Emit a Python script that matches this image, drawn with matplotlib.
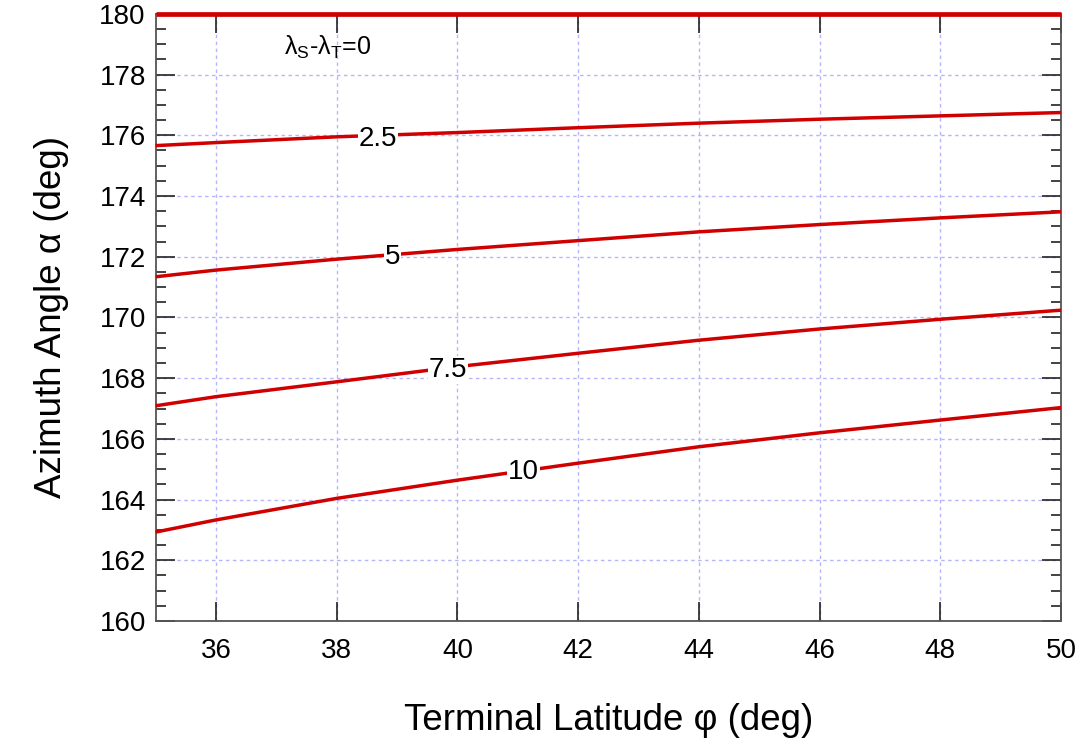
import matplotlib
matplotlib.use("Agg")
import matplotlib.pyplot as plt
from matplotlib.ticker import MultipleLocator

plt.rcParams['font.family'] = ['Liberation Sans', 'DejaVu Sans']
plt.rcParams['mathtext.fontset'] = 'custom'
plt.rcParams['mathtext.rm'] = 'Liberation Sans'
plt.rcParams['mathtext.it'] = 'Liberation Sans:italic'

# Terminal latitude (deg)
lat = [35, 36, 38, 40, 42, 44, 46, 48, 50]
# Azimuth angle (deg) for each longitude difference
az_0 = [180, 180, 180, 180, 180, 180, 180, 180, 180]
az_2_5 = [175.66, 175.76, 175.95, 176.09, 176.25, 176.40, 176.53, 176.64, 176.75]
az_5 = [171.34, 171.56, 171.92, 172.24, 172.53, 172.82, 173.06, 173.28, 173.48]
az_7_5 = [167.09, 167.39, 167.88, 168.38, 168.82, 169.25, 169.62, 169.94, 170.24]
az_10 = [162.93, 163.33, 164.04, 164.64, 165.20, 165.74, 166.20, 166.62, 167.03]

series = [az_0, az_2_5, az_5, az_7_5, az_10]
labels = ["0", "2.5", "5", "7.5", "10"]
label_pos = [None, (38.69, 175.88), (38.92, 172.0), (39.85, 168.27), (41.09, 164.92)]
widths = [3.4, 2.5, 2.5, 2.5, 2.5]

fig = plt.figure(figsize=(10.79, 7.38), dpi=100)
ax = fig.add_axes([0.1442, 0.1585, 0.8391, 0.8227])

red = '#d00000'
for s, lab, pos, w in zip(series, labels, label_pos, widths):
    ax.plot(lat, s, color=red, lw=w, solid_capstyle='butt', solid_joinstyle='round',
            zorder=3, clip_on=False)
    if pos is not None:
        ax.text(pos[0], pos[1], lab, fontsize=20, ha='center', va='center', zorder=4,
                bbox=dict(boxstyle='square,pad=0.03', fc='white', ec='none'))

ax.text(37.85, 178.9, 'λ$_\\mathrm{S}$-λ$_\\mathrm{T}$=0', fontsize=18, ha='center', va='center')

ax.set_xlim(35, 50)
ax.set_ylim(160, 180)
ax.set_xticks([36, 38, 40, 42, 44, 46, 48, 50])
ax.yaxis.set_major_locator(MultipleLocator(2))
ax.yaxis.set_minor_locator(MultipleLocator(0.5))

ax.grid(True, which='major', color='#b4b4ff', lw=1.0, linestyle=(0, (2.5, 2.5)))
ax.set_axisbelow(True)

ax.tick_params(axis='both', which='major', direction='in', length=14, width=1.2,
               top=True, right=True, labelsize=20, colors='#222222', labelcolor='black')
ax.tick_params(axis='x', which='major', pad=12)
ax.tick_params(axis='y', which='major', pad=7)
ax.tick_params(axis='y', which='minor', direction='in', length=7, width=1.2,
               left=True, right=True, colors='#222222')
ax.tick_params(axis='x', which='minor', bottom=False, top=False)

for sp in ax.spines.values():
    sp.set_color('#555555')
    sp.set_linewidth(1.3)

ax.set_xlabel('Terminal Latitude φ (deg)', fontsize=26.5, labelpad=28)
ax.set_ylabel('Azimuth Angle α (deg)', fontsize=26.5, labelpad=22)

fig.savefig('out.png', dpi=100)
